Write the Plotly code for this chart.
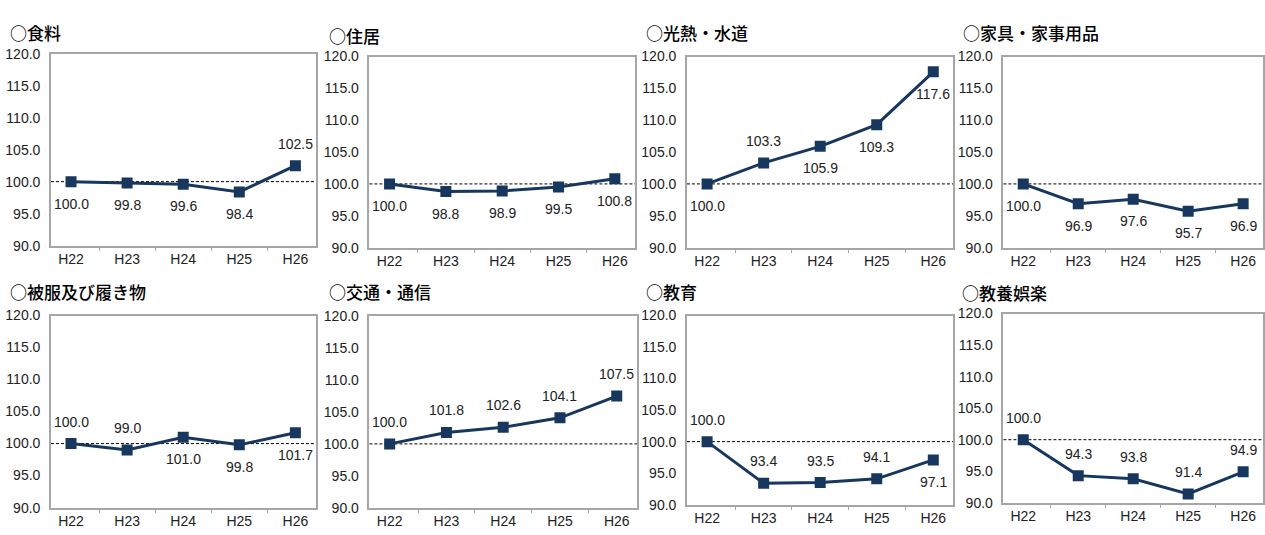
import plotly.graph_objects as go

years = ["H22", "H23", "H24", "H25", "H26"]

titles = ["○食料", "○住居", "○光熱・水道", "○家具・家事用品",
          "○被服及び履き物", "○交通・通信", "○教育", "○教養娯楽"]

food = [100.0, 99.8, 99.6, 98.4, 102.5]
housing = [100.0, 98.8, 98.9, 99.5, 100.8]
utilities = [100.0, 103.3, 105.9, 109.3, 117.6]
furniture = [100.0, 96.9, 97.6, 95.7, 96.9]
clothing = [100.0, 99.0, 101.0, 99.8, 101.7]
transport = [100.0, 101.8, 102.6, 104.1, 107.5]
education = [100.0, 93.4, 93.5, 94.1, 97.1]
recreation = [100.0, 94.3, 93.8, 91.4, 94.9]

series = [food, housing, utilities, furniture,
          clothing, transport, education, recreation]

# label placement: 1 = above point, -1 = below
label_side = [
    [-1, -1, -1, -1, 1],
    [-1, -1, -1, -1, -1],
    [-1, 1, -1, -1, -1],
    [-1, -1, -1, -1, -1],
    [1, 1, -1, -1, -1],
    [1, 1, 1, 1, 1],
    [1, 1, 1, 1, -1],
    [1, 1, 1, 1, 1],
]

W, H = 1265, 535
# plot boxes in pixels: left, right, top, bottom
boxes = [
    (51, 316, 47, 245), (370, 636, 50, 247), (688, 955, 50, 247), (1005, 1265, 50, 247),
    (51, 316, 317, 515), (370, 638, 318, 515), (688, 955, 317, 512), (1005, 1265, 315, 510),
]
title_pos = [(8, 25), (328, 28), (645, 25), (963, 25),
             (8, 292), (328, 292), (645, 292), (962, 293)]

NAVY = "#17375E"
NUM_FONT = "Liberation Sans, Arial, sans-serif"
JP_FONT = "Noto Sans CJK JP, sans-serif"

fig = go.Figure()
annotations = []
shapes = []

for i, vals in enumerate(series):
    n = i + 1
    xa = "x" if n == 1 else f"x{n}"
    ya = "y" if n == 1 else f"y{n}"
    l, r, t, b = boxes[i]

    fig.add_trace(go.Scatter(
        x=years, y=vals, xaxis=xa, yaxis=ya,
        mode="lines+markers",
        line=dict(color=NAVY, width=3),
        marker=dict(symbol="square", size=11, color=NAVY),
        showlegend=False, hoverinfo="x+y",
    ))

    fig.layout[f"xaxis{n if n > 1 else ''}"] = dict(
        domain=[l / W, r / W], anchor=ya, type="category",
        showgrid=False, zeroline=False,
        showline=True, linecolor="#A6A6A6", linewidth=1.5, mirror=True,
        ticks="outside", tickson="boundaries", ticklen=4, tickcolor="#A6A6A6",
        tickfont=dict(family=NUM_FONT, size=14, color="#222"),
        fixedrange=True,
    )
    fig.layout[f"yaxis{n if n > 1 else ''}"] = dict(
        domain=[1 - b / H, 1 - t / H], anchor=xa,
        range=[90, 120], dtick=5, tick0=90, tickformat=".1f",
        showgrid=False, zeroline=False,
        showline=True, linecolor="#A6A6A6", linewidth=1.5, mirror=True,
        ticks="", ticklabelstandoff=6,
        tickfont=dict(family=NUM_FONT, size=14, color="#222"),
        fixedrange=True,
    )

    shapes.append(dict(
        type="line", xref=f"{xa} domain", yref=ya,
        x0=0, x1=1, y0=100, y1=100,
        line=dict(color="black", width=1, dash="3px,2px"), layer="below",
    ))

    for j, v in enumerate(vals):
        annotations.append(dict(
            x=years[j], y=v, xref=xa, yref=ya,
            text=f"{v:.1f}", showarrow=False,
            yshift=22 * label_side[i][j],
            font=dict(family=NUM_FONT, size=14, color="#222"),
        ))

    tx, ty = title_pos[i]
    annotations.append(dict(
        x=tx / W, y=1 - ty / H, xref="paper", yref="paper",
        xanchor="left", yanchor="middle", showarrow=False,
        text=titles[i], font=dict(family=JP_FONT, size=17, color="black", weight=500),
    ))

fig.update_layout(
    width=W, height=H,
    margin=dict(l=0, r=0, t=0, b=0),
    paper_bgcolor="white", plot_bgcolor="white",
    annotations=annotations, shapes=shapes,
)

fig.write_html(
    "out.html",
    config={"displayModeBar": False},
    post_script="document.body.style.margin='0';document.body.style.overflow='hidden';",
)
